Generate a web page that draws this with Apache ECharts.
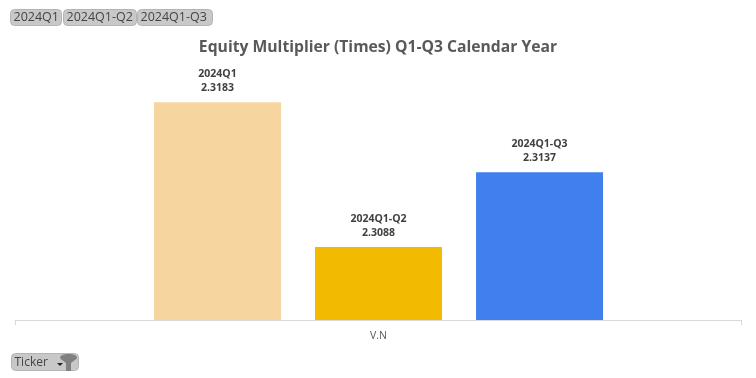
<!DOCTYPE html>
<html>
<head>
  <meta charset="utf-8" />
  <title>Equity Multiplier</title>
  <style>
    html, body { margin: 0; padding: 0; background: #fff; }
    #main { width: 756px; height: 378px; }
  </style>
</head>
<body>
  <div id="main"></div>
  <script src="https://cdn.jsdelivr.net/npm/echarts@6/dist/echarts.min.js"></script>
  <script>
    var categories = ['V.N'];
    var seriesNames = ['2024Q1', '2024Q1-Q2', '2024Q1-Q3'];
    var seriesValues = [2.3183, 2.3088, 2.3137];
    var seriesColors = ['#f6d59f', '#f3ba02', '#4080ee'];
    var titleText = 'Equity Multiplier (Times) Q1-Q3 Calendar Year';
    var filterLabel = 'Ticker';
    var font = '"Open Sans", "Noto Sans", sans-serif';

    // slicer style buttons, not part of the plot
    function button(x, y, w, h, label, size, dy) {
      return [{
        type: 'rect',
        shape: { x: x, y: y, width: w, height: h, r: 4 },
        style: { fill: '#c8c8c8', stroke: '#b4b4b4', lineWidth: 1 }
      }, {
        type: 'text',
        x: x + 3,
        y: y + h / 2 + dy,
        style: { text: label, fill: '#444', font: size + 'px ' + font, textVerticalAlign: 'middle' }
      }];
    }

    var graphics = []
      .concat(button(10.5, 9.5, 51, 16, seriesNames[0], 12.5, 0))
      .concat(button(63.5, 9.5, 73, 16, seriesNames[1], 12.5, 0))
      .concat(button(137.5, 9.5, 75, 16, seriesNames[2], 12.5, 0))
      .concat(button(11.5, 353.5, 67, 17, filterLabel, 12, 1));

    // funnel icon on the Ticker button
    graphics.push({
      type: 'ellipse',
      shape: { cx: 68.5, cy: 357.5, rx: 8.5, ry: 3.5 },
      style: { fill: '#808080' }
    }, {
      type: 'polygon',
      shape: { points: [[61, 359], [76, 359], [71, 363], [71, 371], [66, 371], [66, 363]] },
      style: { fill: '#808080' }
    }, {
      type: 'polygon',
      shape: { points: [[57, 363], [63, 363], [60, 366]] },
      style: { fill: '#222' }
    });

    var myChart = echarts.init(document.getElementById('main'), null, { renderer: 'canvas' });

    myChart.setOption({
      animation: false,
      title: {
        text: titleText,
        left: 373,
        top: 35,
        textAlign: 'center',
        textStyle: { color: '#595959', fontSize: 15.7, fontWeight: 'bold', fontFamily: font }
      },
      grid: { left: 15.5, right: 14.5, top: 20, bottom: 58 },
      xAxis: {
        type: 'category',
        data: categories,
        axisLine: { lineStyle: { color: '#d9d9d9' } },
        axisTick: { show: true, length: 5, lineStyle: { color: '#d9d9d9' } },
        axisLabel: { color: '#595959', fontSize: 10.5, fontFamily: font, margin: 11 }
      },
      yAxis: {
        type: 'value',
        min: 2.304,
        max: 2.3237,
        show: false
      },
      series: seriesNames.map(function (name, i) {
        return {
          name: name,
          type: 'bar',
          data: [seriesValues[i]],
          barWidth: 127,
          barGap: '26.8%',
          itemStyle: { color: seriesColors[i] },
          label: {
            show: true,
            position: 'top',
            distance: 7,
            formatter: '{a}\n{c}',
            color: '#404040',
            fontSize: 10.5,
            fontWeight: 'bold',
            lineHeight: 14,
            fontFamily: font
          }
        };
      }),
      graphic: graphics
    });
  </script>
</body>
</html>
